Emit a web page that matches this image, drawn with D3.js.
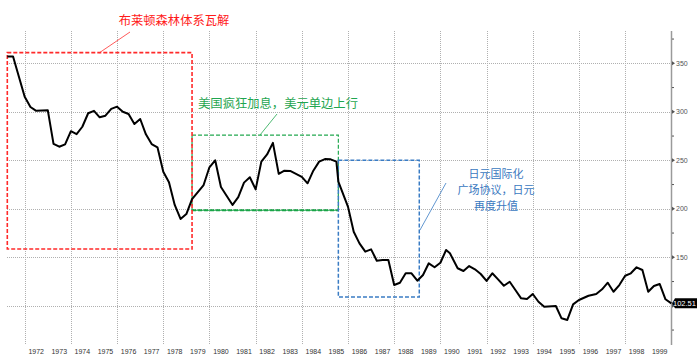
<!DOCTYPE html>
<html>
<head>
<meta charset="utf-8">
<script src="https://cdn.jsdelivr.net/npm/d3@7"></script>
<style>
  html, body { margin: 0; padding: 0; background: #fff; }
  svg { display: block; }
</style>
</head>
<body>
<svg id="chart" width="697" height="356"></svg>
<script>
// ---- data (USD/JPY, quarterly) ----
const dates = [
  "1971-04","1971-07","1972-01","1972-04","1972-07","1973-01","1973-04","1973-07","1973-10",
  "1974-01","1974-04","1974-07","1974-10","1975-01","1975-04","1975-07","1975-10",
  "1976-01","1976-04","1976-07","1976-10","1977-01","1977-04","1977-07","1977-10",
  "1978-01","1978-04","1978-07","1978-10","1979-01","1979-04","1979-10",
  "1980-01","1980-04","1980-07","1981-01","1981-04","1981-07","1981-10",
  "1982-01","1982-04","1982-07","1982-10","1983-01","1983-04","1983-07",
  "1984-01","1984-04","1984-07","1984-10","1985-01","1985-04","1985-07","1985-08",
  "1986-01","1986-04","1986-07","1986-10","1987-01","1987-04","1987-07","1987-10",
  "1988-01","1988-04","1988-07","1988-10","1989-01","1989-04","1989-07","1989-10",
  "1990-01","1990-04","1990-06","1990-10","1991-01","1991-04","1991-07","1991-10",
  "1992-01","1992-04","1992-07","1992-10","1993-01","1993-04","1993-07","1993-10",
  "1994-01","1994-04","1994-07","1995-01","1995-04","1995-07","1995-10",
  "1996-01","1996-06","1996-10","1997-01","1997-04","1997-07","1997-10",
  "1998-01","1998-04","1998-07","1998-10","1999-01","1999-04","1999-07","1999-10","2000-01"
];
const values = [
  357,357,315.6,305,301,301.5,267,264,266.5,
  280,277,284.6,298.5,301,294.3,296,303,
  305.3,300,297.7,287.4,292.6,276.8,266.8,263.4,
  238.2,227.3,204,189.5,194.6,210,224.5,
  242.8,250,222.5,204,212,227,232.5,
  220,248.6,256,268,236,239.3,239,
  233,226.3,239.3,248.6,251.3,251,248.6,228,
  202,176.4,164.4,155.8,158.2,146.5,147.2,147.2,
  121.4,123.8,133.5,133.5,125.9,131.8,143.8,139.7,
  144.4,157.5,154.1,138.7,135.9,141,137.6,132.8,
  125.6,133.5,127.3,120.7,124.8,116.3,107.7,107,
  112.2,104.2,99.1,99.8,87.1,85.4,101.5,
  106,110.4,112.2,117,123.8,114.5,121.4,
  131,133.5,139.7,136.9,114.5,120.4,122.5,106.7,102.51
];
const yearLabels = d3.range(1972, 2000);
const gridYears = d3.range(1972, 2000, 2);
const yTicks = [100, 150, 200, 250, 300, 350];
const yTickLabels = [150, 200, 250, 300, 350]; // 100 is hidden behind the last-value tag
const yMinorTicks = [75, 125, 175, 225, 275, 325, 375];
const lastLabel = "102.51";
const noteRed = "布莱顿森林体系瓦解";
const noteGreen = "美国疯狂加息，美元单边上行";
const noteBlue = ["日元国际化", "广场协议，日元", "再度升值"];
// annotation periods: [start, end, low, high]
const boxRed = ["1971-04", "1979-04", 158.5, 361];
const boxGreen = ["1979-04", "1985-08", 198.5, 276];
const boxBlue = ["1985-08", "1989-02", 109, 250];

// ---- scales ----
const parse = d3.timeParse("%Y-%m");
const data = dates.map((d, i) => ({ date: parse(d), value: values[i] }));

const x = d3.scaleTime()
  .domain([parse("1971-04"), parse("2000-01")])
  .range([7.3, 671.3]);
const y = d3.scaleLinear()
  .domain([60, 383])
  .range([344.6, 31.3]);

const svg = d3.select("#chart");
const axisX = 671;
const gridColor = "#b0b0b0";

// horizontal grid
svg.append("g").selectAll("line").data(yTicks).join("line")
  .attr("x1", 7).attr("x2", axisX)
  .attr("y1", d => Math.round(y(d)) + 0.5).attr("y2", d => Math.round(y(d)) + 0.5)
  .attr("stroke", gridColor).attr("stroke-width", 1).attr("stroke-dasharray", "1,1");

// vertical grid
svg.append("g").selectAll("line").data(gridYears).join("line")
  .attr("x1", d => Math.round(x(new Date(d, 0, 1))) + 0.5)
  .attr("x2", d => Math.round(x(new Date(d, 0, 1))) + 0.5)
  .attr("y1", 31).attr("y2", 345)
  .attr("stroke", gridColor).attr("stroke-width", 1).attr("stroke-dasharray", "1,1");

// year labels
svg.append("g").selectAll("text").data(yearLabels).join("text")
  .attr("x", d => x(new Date(d, 6, 1)))
  .attr("y", 354)
  .attr("text-anchor", "middle")
  .attr("font-family", "Liberation Sans, Arial, sans-serif")
  .attr("font-size", 7)
  .attr("fill", "#333")
  .text(d => d);

// right axis
svg.append("line")
  .attr("x1", axisX + 0.5).attr("x2", axisX + 0.5)
  .attr("y1", 31).attr("y2", 345)
  .attr("stroke", "#9a9a9a").attr("stroke-width", 1.5);

svg.append("g").selectAll("path").data(yTicks).join("path")
  .attr("d", d => {
    const yy = y(d);
    return `M${axisX + 1},${yy - 2} L${axisX + 4},${yy} L${axisX + 1},${yy + 2} Z`;
  })
  .attr("fill", "#555");
svg.append("g").selectAll("line").data(yMinorTicks).join("line")
  .attr("x1", axisX + 1).attr("x2", axisX + 3)
  .attr("y1", d => y(d)).attr("y2", d => y(d))
  .attr("stroke", "#555").attr("stroke-width", 1);

svg.append("g").selectAll("text").data(yTickLabels).join("text")
  .attr("x", axisX + 5)
  .attr("y", d => y(d) + 2.5)
  .attr("font-family", "Liberation Sans, Arial, sans-serif")
  .attr("font-size", 7)
  .attr("fill", "#555")
  .text(d => d);

// annotation boxes
function box(b, color, dash, w) {
  const x0 = x(parse(b[0])), x1 = x(parse(b[1]));
  const y0 = y(b[3]), y1 = y(b[2]);
  return svg.append("rect")
    .attr("x", x0).attr("y", y0)
    .attr("width", x1 - x0).attr("height", y1 - y0)
    .attr("fill", "none").attr("stroke", color)
    .attr("stroke-width", w).attr("stroke-dasharray", dash);
}
box(boxGreen, "#22a84f", "4,2", 1.2);
// stronger bottom edge of green box
svg.append("line")
  .attr("x1", x(parse(boxGreen[0]))).attr("x2", x(parse(boxGreen[1])))
  .attr("y1", y(boxGreen[2])).attr("y2", y(boxGreen[2]))
  .attr("stroke", "#1aa548").attr("stroke-width", 2).attr("stroke-dasharray", "4,2");
box(boxBlue, "#3a7cc4", "4,2", 1.5);
box(boxRed, "#ff2a2a", "4,2", 1.6);

// price line
const line = d3.line().x(d => x(d.date)).y(d => y(d.value));
svg.append("path")
  .datum(data)
  .attr("d", line)
  .attr("fill", "none")
  .attr("stroke", "#000")
  .attr("stroke-width", 2)
  .attr("stroke-linejoin", "round");

// leader lines
svg.append("line").attr("x1", 99).attr("y1", 53).attr("x2", 130).attr("y2", 32)
  .attr("stroke", "#ff3030").attr("stroke-width", 0.8);
svg.append("line").attr("x1", 260).attr("y1", 135).attr("x2", 277).attr("y2", 114)
  .attr("stroke", "#22a84f").attr("stroke-width", 0.8);
svg.append("line").attr("x1", 420).attr("y1", 230).attr("x2", 446).attr("y2", 183)
  .attr("stroke", "#3a7cc4").attr("stroke-width", 0.8);

// notes
const cjk = "'Noto Sans CJK SC', 'Noto Sans CJK JP', sans-serif";
svg.append("text").attr("x", 174).attr("y", 25)
  .attr("text-anchor", "middle").attr("font-family", cjk).attr("font-size", 12.3)
  .attr("fill", "#ff1a1a").text(noteRed);
svg.append("text").attr("x", 278).attr("y", 107.5)
  .attr("text-anchor", "middle").attr("font-family", cjk).attr("font-size", 12.3)
  .attr("fill", "#1fa650").text(noteGreen);
svg.append("g").selectAll("text").data(noteBlue).join("text")
  .attr("x", 496).attr("y", (d, i) => 177.5 + i * 16)
  .attr("text-anchor", "middle").attr("font-family", cjk).attr("font-size", 11)
  .attr("fill", "#3a78c0").text(d => d);

// last value label
const ly = y(values[values.length - 1]);
svg.append("path")
  .attr("d", `M${axisX + 1},${ly} L${axisX + 4},${ly - 5} L697,${ly - 5} L697,${ly + 5} L${axisX + 4},${ly + 5} Z`)
  .attr("fill", "#000");
svg.append("text").attr("x", 684.5).attr("y", ly + 2.8)
  .attr("text-anchor", "middle")
  .attr("font-family", "Liberation Sans, Arial, sans-serif")
  .attr("font-size", 7.5).attr("fill", "#fff").text(lastLabel);
</script>
</body>
</html>
